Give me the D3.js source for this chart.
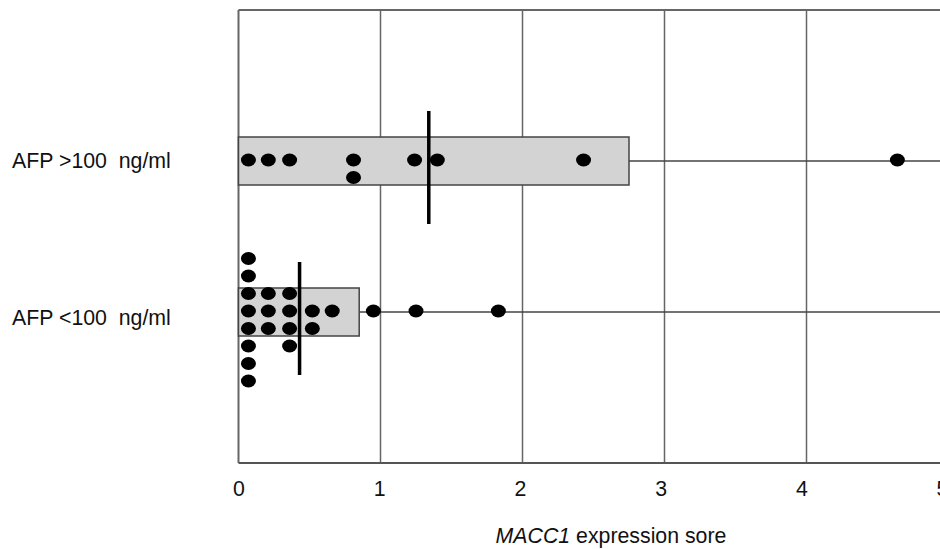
<!DOCTYPE html>
<html>
<head>
<meta charset="utf-8">
<script src="https://cdn.jsdelivr.net/npm/d3@7"></script>
<style>
  body { margin: 0; background: #fff; }
  text { font-family: "Liberation Sans", Arial, sans-serif; fill: #111; }
</style>
</head>
<body>
<svg id="chart" width="940" height="549"></svg>
<script>
// groups, top to bottom
const groups = ['AFP >100  ng/ml', 'AFP <100  ng/ml'];

// individual MACC1 scores per group (repeated values get stacked)
const highAFP = [0.07, 0.21, 0.36, 0.81, 0.81, 1.24, 1.40, 2.43, 4.64];
const lowAFP = [
  0.07, 0.07, 0.07, 0.07, 0.07, 0.07, 0.07, 0.07,
  0.21, 0.21, 0.21,
  0.36, 0.36, 0.36, 0.36,
  0.52, 0.52,
  0.66, 0.95, 1.25, 1.83
];

// box right edge and median per group
const boxEnd = [2.75, 0.85];
const medians = [1.34, 0.43];

const xTicks = [0, 1, 2, 3, 4, 5];

const svg = d3.select('#chart');

// marks and grid
const x = d3.scaleLinear().domain([0, 5]).range([238.5, 948.5]);
// tick labels sit slightly tighter than the grid in the original
const xLabel = d3.scaleLinear().domain([0, 5]).range([238.5, 942]);
const y = d3.scalePoint().domain(groups).range([10, 463]).padding(1);

const plotTop = 10, plotBottom = 463;
const fontSize = '21.3px';

// vertical grid lines
svg.append('g')
  .selectAll('line')
  .data(xTicks)
  .join('line')
  .attr('x1', d => x(d)).attr('x2', d => x(d))
  .attr('y1', plotTop).attr('y2', plotBottom)
  .attr('stroke', '#666')
  .attr('stroke-width', d => d === 0 ? 2 : 1.5);

// top frame line
svg.append('line')
  .attr('x1', x(0)).attr('x2', 940)
  .attr('y1', plotTop).attr('y2', plotTop)
  .attr('stroke', '#666').attr('stroke-width', 2);

// x axis
const xAxis = svg.append('g')
  .attr('transform', `translate(0,${plotBottom})`)
  .call(d3.axisBottom(xLabel).tickValues(xTicks).tickFormat(d3.format('d'))
    .tickSize(0).tickPadding(18));
xAxis.select('.domain')
  .attr('d', `M${x(0)},0H${x(5)}`)
  .attr('stroke', '#555').attr('stroke-width', 2);
xAxis.selectAll('text')
  .style('font-size', fontSize)
  .style('font-family', '"Liberation Sans", Arial, sans-serif')
  .attr('fill', '#111');

// axis title
const title = svg.append('text')
  .attr('x', 611).attr('y', 543)
  .attr('text-anchor', 'middle')
  .style('font-size', fontSize);
title.append('tspan').style('font-style', 'italic').text('MACC1');
title.append('tspan').text(' expression sore');

// group labels
svg.append('g')
  .selectAll('text')
  .data(groups)
  .join('text')
  .attr('x', 12)
  .attr('y', (d, i) => y(d) + 7 + i * 6)
  .style('font-size', fontSize)
  .style('white-space', 'pre')
  .attr('xml:space', 'preserve')
  .text(d => d);

// whiskers from box to the right
svg.append('g')
  .selectAll('line')
  .data(groups)
  .join('line')
  .attr('x1', (d, i) => x(boxEnd[i]))
  .attr('x2', x(5))
  .attr('y1', d => y(d)).attr('y2', d => y(d))
  .attr('stroke', '#444').attr('stroke-width', 1.5);

// boxes
const boxHalf = 24;
svg.append('g')
  .selectAll('rect')
  .data(groups)
  .join('rect')
  .attr('x', x(0))
  .attr('y', d => y(d) - boxHalf)
  .attr('width', (d, i) => x(boxEnd[i]) - x(0))
  .attr('height', boxHalf * 2)
  .attr('fill', '#d3d3d3')
  .attr('stroke', '#444')
  .attr('stroke-width', 1.5);

// stacked dots: 0, +1, -1, +2, -2, ...
const stackOffset = k => (k === 0 ? 0 : (k % 2 === 1 ? (k + 1) / 2 : -k / 2));
const dotStep = 17.5;

function dotsFor(values, group) {
  const counts = new Map();
  return values.map(v => {
    const k = counts.get(v) || 0;
    counts.set(v, k + 1);
    return { v, cy: y(group) - 1 + stackOffset(k) * dotStep };
  });
}

const allDots = dotsFor(highAFP, groups[0]).concat(dotsFor(lowAFP, groups[1]));

// median lines
svg.append('g')
  .selectAll('line')
  .data(groups)
  .join('line')
  .attr('x1', (d, i) => x(medians[i])).attr('x2', (d, i) => x(medians[i]))
  .attr('y1', d => y(d) - 50).attr('y2', d => y(d) + 63)
  .attr('stroke', '#000').attr('stroke-width', 3.5);

svg.append('g')
  .selectAll('ellipse')
  .data(allDots)
  .join('ellipse')
  .attr('cx', d => x(d.v))
  .attr('cy', d => d.cy)
  .attr('rx', 7.5)
  .attr('ry', 6.5)
  .attr('fill', '#000');
</script>
</body>
</html>
